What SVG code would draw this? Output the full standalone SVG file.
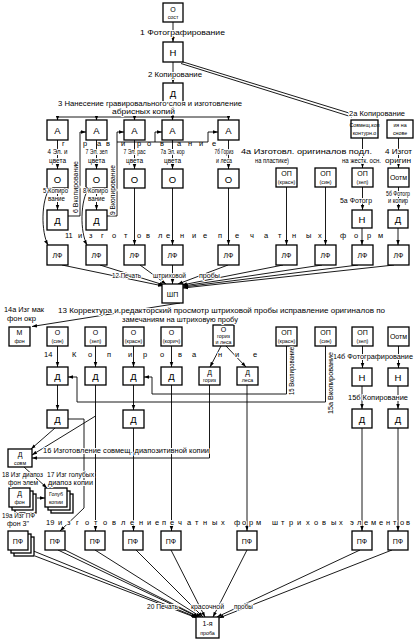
<svg xmlns="http://www.w3.org/2000/svg" width="415" height="642" viewBox="0 0 415 642">
<defs>
<style>
.b{fill:#fff;stroke:#000;stroke-width:1.3}
.c{fill:none;stroke:#000;stroke-width:0.9}
.m{marker-end:url(#ar)}
text{font-family:"Liberation Sans","DejaVu Sans",Arial,sans-serif;fill:#000}
.l{font-size:7px}
.h{paint-order:stroke;stroke:#fff;stroke-width:2px;stroke-linejoin:round}
.k{font-size:9.5px;text-anchor:middle}
.k2{font-size:7px;text-anchor:middle}
.s{font-size:5.3px;text-anchor:middle}
.sp{font-size:7.5px}
.al{font-size:6.5px;text-anchor:middle}
</style>
<marker id="ar" viewBox="0 0 10 10" refX="10" refY="5" markerWidth="5" markerHeight="5" markerUnits="userSpaceOnUse" orient="auto"><path d="M0,1.5L10,5L0,8.5z"/></marker>
</defs>
<rect width="415" height="642" fill="#fff"/>
<g id="connectors">
<path class="c m" d="M173,22V42"/>
<path class="c m" d="M173,62V83"/>
<path class="c" d="M173,103V117M57.5,117H228.5"/>
<path class="c m" d="M57.5,117V120.5"/><path class="c m" d="M96.5,117V120.5"/><path class="c m" d="M134.5,117V120.5"/><path class="c m" d="M172.5,117V120.5"/><path class="c m" d="M228.5,117V120.5"/>
<path class="c" d="M180,61L349,113"/><path class="c" d="M181,63.5L352,117"/>
<path class="c m" d="M57.5,140V169"/><path class="c m" d="M96.5,140V169"/><path class="c m" d="M134.5,140V169"/><path class="c m" d="M172.5,140V169"/><path class="c m" d="M228.5,140V169"/>
<path class="c m" d="M57.5,188V210"/><path class="c m" d="M96.5,188V210"/>
<path class="c m" d="M50,188C41,200 41,232 48,245"/><path class="c m" d="M89,188C80,200 80,232 87,245"/>
<path class="c m" d="M68,216H80V132H86"/>
<path class="c m" d="M107,216H117V132H124"/>
<path class="c" d="M117,142H208"/>
<path class="c m" d="M155,142V132H162"/><path class="c m" d="M208,142V132H218"/>
<path class="c m" d="M134.5,188V245"/><path class="c m" d="M172.5,188V245"/><path class="c m" d="M228.5,188V245"/>
<path class="c m" d="M286.5,187V245"/><path class="c m" d="M325.5,187V245"/>
<path class="c m" d="M362.5,187V210"/><path class="c m" d="M362,228V245"/>
<path class="c m" d="M398.5,187V210"/><path class="c m" d="M398,228V245"/>
<path class="c m" d="M362.5,138V168"/><path class="c m" d="M398.5,138V168"/>
<path class="c m" d="M62,265L163,286"/><path class="c m" d="M100,265L164,285"/><path class="c m" d="M140,265L166,284"/><path class="c m" d="M172.5,265V284"/>
<path class="c m" d="M228,265L178,284"/><path class="c m" d="M283,265L182,285"/><path class="c m" d="M322,265L183,286"/><path class="c m" d="M358,265L183,287"/><path class="c m" d="M394,265L183,288"/>
<path class="c m" d="M180,303L32,326.5"/>
<path class="c m" d="M57.5,346V367"/><path class="c m" d="M95.5,346V367"/><path class="c m" d="M133.5,346V367"/><path class="c m" d="M171.5,346V367"/>
<path class="c m" d="M221,346L210,367"/><path class="c m" d="M226,346L246,367"/>
<path class="c m" d="M286.5,346V394H152V377H144"/>
<path class="c m" d="M325.5,346V402H77V377H68"/>
<path class="c m" d="M362.5,346V368"/><path class="c m" d="M398.5,346V368"/>
<path class="c m" d="M362,386V409"/><path class="c m" d="M398,386V409"/>
<path class="c m" d="M57.5,385V410"/><path class="c m" d="M133.5,385V410"/>
<path class="c m" d="M209.5,385V458H32"/>
<path class="c m" d="M55,428L31,449"/><path class="c m" d="M95.5,416L32,455"/>
<path class="c m" d="M68,419H84V508L60,531"/>
<path class="c m" d="M95.5,385V531"/><path class="c m" d="M133.5,428V531"/><path class="c m" d="M171.5,385V531"/><path class="c m" d="M247,385V531"/>
<path class="c m" d="M362,428V531"/><path class="c m" d="M398,428V531"/>
<path class="c m" d="M24,467L47,488"/>
<path class="c m" d="M37,498H45"/>
<path class="c m" d="M31,550L196,617"/><path class="c m" d="M35,556L197,618"/><path class="c m" d="M58,550L198,617"/><path class="c m" d="M65,550L199,617"/>
<path class="c m" d="M95,550L201,617"/><path class="c m" d="M136,550L203,617"/><path class="c m" d="M171,550L205,617"/>
<path class="c m" d="M247,550L213,617"/><path class="c m" d="M360,550L217,617"/><path class="c m" d="M392,550L219,618"/>
</g>
<g id="nodes">
<g id="n-o-sost"><rect class="b" x="163" y="3" width="20" height="19"/><text class="k2" x="173" y="11.5">О</text><text class="s" x="173" y="19">сост</text></g>
<g id="n-n"><rect class="b" x="163" y="42" width="20" height="20"/><text class="k" x="173" y="55.5">Н</text></g>
<g id="n-d"><rect class="b" x="163" y="83" width="20" height="20"/><text class="k" x="173" y="96.5">Д</text></g>
<g id="n-a1"><rect class="b" x="47" y="120" width="21" height="20"/><text class="k" x="57.5" y="133.5">А</text></g>
<g id="n-a2"><rect class="b" x="86" y="120" width="21" height="20"/><text class="k" x="96.5" y="133.5">А</text></g>
<g id="n-a3"><rect class="b" x="124" y="120" width="21" height="20"/><text class="k" x="134.5" y="133.5">А</text></g>
<g id="n-a4"><rect class="b" x="162" y="120" width="21" height="20"/><text class="k" x="172.5" y="133.5">А</text></g>
<g id="n-a5"><rect class="b" x="218" y="120" width="21" height="20"/><text class="k" x="228.5" y="133.5">А</text></g>
<g id="n-sovm1"><rect class="b" x="351" y="120" width="27" height="18"/><text class="s" x="364.5" y="127" font-size="5">Совмещ.коп</text><text class="s" x="364.5" y="135" font-size="5">контурн.о</text></g>
<g id="n-sovm2"><rect class="b" x="387" y="120" width="26" height="18"/><text class="s" x="400" y="127" font-size="5">ия на</text><text class="s" x="400" y="135" font-size="5">снове</text></g>
<g id="n-o1"><rect class="b" x="47" y="169" width="21" height="19"/><text class="k" x="57.5" y="182.5">О</text></g>
<g id="n-o2"><rect class="b" x="86" y="169" width="21" height="19"/><text class="k" x="96.5" y="182.5">О</text></g>
<g id="n-o3"><rect class="b" x="124" y="169" width="21" height="19"/><text class="k" x="134.5" y="182.5">О</text></g>
<g id="n-o4"><rect class="b" x="162" y="169" width="21" height="19"/><text class="k" x="172.5" y="182.5">О</text></g>
<g id="n-o5"><rect class="b" x="218" y="169" width="21" height="19"/><text class="k" x="228.5" y="182.5">О</text></g>
<g id="n-op1"><rect class="b" x="276" y="168" width="21" height="19"/><text class="k2" x="286.5" y="176">ОП</text><text class="s" x="286.5" y="184">(красн)</text></g>
<g id="n-op2"><rect class="b" x="315" y="168" width="21" height="19"/><text class="k2" x="325.5" y="176">ОП</text><text class="s" x="325.5" y="184">(син)</text></g>
<g id="n-op3"><rect class="b" x="352" y="168" width="21" height="19"/><text class="k2" x="362.5" y="176">ОП</text><text class="s" x="362.5" y="184">(зел)</text></g>
<g id="n-ootm1"><rect class="b" x="388" y="168" width="21" height="19"/><text class="k2" x="398.5" y="180" font-size="6">Оотм</text></g>
<g id="n-d1"><rect class="b" x="47" y="210" width="21" height="20"/><text class="k" x="57.5" y="223.5">Д</text></g>
<g id="n-d2"><rect class="b" x="86" y="210" width="21" height="20"/><text class="k" x="96.5" y="223.5">Д</text></g>
<g id="n-n5a"><rect class="b" x="352" y="210" width="20" height="18"/><text class="k" x="362" y="222.5">Н</text></g>
<g id="n-d5b"><rect class="b" x="388" y="210" width="20" height="18"/><text class="k" x="398" y="222.5">Д</text></g>
<g id="n-lf1"><rect class="b" x="47" y="245" width="21" height="20"/><text class="k2" x="57.5" y="257.5">ЛФ</text></g>
<g id="n-lf2"><rect class="b" x="86" y="245" width="21" height="20"/><text class="k2" x="96.5" y="257.5">ЛФ</text></g>
<g id="n-lf3"><rect class="b" x="124" y="245" width="21" height="20"/><text class="k2" x="134.5" y="257.5">ЛФ</text></g>
<g id="n-lf4"><rect class="b" x="162" y="245" width="21" height="20"/><text class="k2" x="172.5" y="257.5">ЛФ</text></g>
<g id="n-lf5"><rect class="b" x="218" y="245" width="21" height="20"/><text class="k2" x="228.5" y="257.5">ЛФ</text></g>
<g id="n-lf6"><rect class="b" x="276" y="245" width="21" height="20"/><text class="k2" x="286.5" y="257.5">ЛФ</text></g>
<g id="n-lf7"><rect class="b" x="315" y="245" width="21" height="20"/><text class="k2" x="325.5" y="257.5">ЛФ</text></g>
<g id="n-lf8"><rect class="b" x="352" y="245" width="21" height="20"/><text class="k2" x="362.5" y="257.5">ЛФ</text></g>
<g id="n-lf9"><rect class="b" x="388" y="245" width="21" height="20"/><text class="k2" x="398.5" y="257.5">ЛФ</text></g>
<g id="n-shp"><rect class="b" x="162" y="284" width="21" height="19"/><text class="k2" x="172.5" y="296.5">ШП</text></g>
<g id="n-mfon"><rect class="b" x="9" y="327" width="21" height="19"/><text class="k2" x="19.5" y="335">М</text><text class="s" x="19.5" y="343">фон</text></g>
<g id="n-osin"><rect class="b" x="47" y="327" width="21" height="19"/><text class="k2" x="57.5" y="335">О</text><text class="s" x="57.5" y="343">(син)</text></g>
<g id="n-ozel"><rect class="b" x="85" y="327" width="21" height="19"/><text class="k2" x="95.5" y="335">О</text><text class="s" x="95.5" y="343">(зел)</text></g>
<g id="n-okr"><rect class="b" x="123" y="327" width="21" height="19"/><text class="k2" x="133.5" y="335">О</text><text class="s" x="133.5" y="343">(красн)</text></g>
<g id="n-okor"><rect class="b" x="161" y="327" width="21" height="19"/><text class="k2" x="171.5" y="335">О</text><text class="s" x="171.5" y="343">(корич)</text></g>
<g id="n-ogor"><rect class="b" x="213" y="325" width="21" height="21"/><text class="k2" x="223.5" y="332" font-size="6.5">О</text><text class="s" x="223.5" y="338" font-size="4.8">гориз</text><text class="s" x="223.5" y="344" font-size="4.8">и леса</text></g>
<g id="n-op4"><rect class="b" x="276" y="327" width="21" height="19"/><text class="k2" x="286.5" y="335">ОП</text><text class="s" x="286.5" y="343">(красн)</text></g>
<g id="n-op5"><rect class="b" x="315" y="327" width="21" height="19"/><text class="k2" x="325.5" y="335">ОП</text><text class="s" x="325.5" y="343">(син)</text></g>
<g id="n-op6"><rect class="b" x="352" y="327" width="21" height="19"/><text class="k2" x="362.5" y="335">ОП</text><text class="s" x="362.5" y="343">(зел)</text></g>
<g id="n-ootm2"><rect class="b" x="388" y="327" width="21" height="19"/><text class="k2" x="398.5" y="339" font-size="6">Оотм</text></g>
<g id="n-d14a"><rect class="b" x="47" y="367" width="21" height="18"/><text class="k" x="57.5" y="380">Д</text></g>
<g id="n-d14b"><rect class="b" x="85" y="367" width="21" height="18"/><text class="k" x="95.5" y="380">Д</text></g>
<g id="n-d14c"><rect class="b" x="123" y="367" width="21" height="18"/><text class="k" x="133.5" y="380">Д</text></g>
<g id="n-d14d"><rect class="b" x="161" y="367" width="21" height="18"/><text class="k" x="171.5" y="380">Д</text></g>
<g id="n-dgor"><rect class="b" x="199" y="367" width="21" height="18"/><text class="k2" x="209.5" y="374.5">Д</text><text class="s" x="209.5" y="382">гориз</text></g>
<g id="n-dles"><rect class="b" x="237" y="367" width="21" height="18"/><text class="k2" x="247.5" y="374.5">Д</text><text class="s" x="247.5" y="382">леса</text></g>
<g id="n-n14a"><rect class="b" x="352" y="368" width="20" height="18"/><text class="k" x="362" y="381">Н</text></g>
<g id="n-n14b"><rect class="b" x="388" y="368" width="20" height="18"/><text class="k" x="398" y="381">Н</text></g>
<g id="n-d15a"><rect class="b" x="47" y="410" width="21" height="18"/><text class="k" x="57.5" y="423">Д</text></g>
<g id="n-d15b"><rect class="b" x="123" y="410" width="21" height="18"/><text class="k" x="133.5" y="423">Д</text></g>
<g id="n-d15c"><rect class="b" x="352" y="409" width="20" height="19"/><text class="k" x="362" y="422.5">Д</text></g>
<g id="n-d15d"><rect class="b" x="388" y="409" width="20" height="19"/><text class="k" x="398" y="422.5">Д</text></g>
<g id="n-dsovm"><rect class="b" x="8" y="449" width="24" height="18"/><text class="k2" x="20" y="456.5">Д</text><text class="s" x="20" y="464.5">совм</text></g>
<g id="n-dfon"><rect class="b" x="15" y="494" width="21" height="19"/><rect class="b" x="12" y="491" width="21" height="19"/><rect class="b" x="9" y="488" width="21" height="19"/><text class="k2" x="19.5" y="496">Д</text><text class="s" x="19.5" y="504">фон</text></g>
<g id="n-golub"><rect class="b" x="51" y="494" width="22" height="19"/><rect class="b" x="48" y="491" width="22" height="19"/><rect class="b" x="45" y="488" width="22" height="19"/><text class="s" x="56" y="496" font-size="5.5">Голуб</text><text class="s" x="56" y="503.5" font-size="5.5">копии</text></g>
<g id="n-pf1"><rect class="b" x="14" y="537" width="20" height="19"/><rect class="b" x="11" y="534" width="20" height="19"/><rect class="b" x="8" y="531" width="20" height="19"/><text class="k2" x="18" y="544">ПФ</text></g>
<g id="n-pf2"><rect class="b" x="45" y="531" width="20" height="19"/><text class="k2" x="55" y="544">ПФ</text></g>
<g id="n-pf3"><rect class="b" x="85" y="531" width="20" height="19"/><text class="k2" x="95" y="544">ПФ</text></g>
<g id="n-pf4"><rect class="b" x="123" y="531" width="20" height="19"/><text class="k2" x="133" y="544">ПФ</text></g>
<g id="n-pf5"><rect class="b" x="161" y="531" width="20" height="19"/><text class="k2" x="171" y="544">ПФ</text></g>
<g id="n-pf6"><rect class="b" x="237" y="531" width="20" height="19"/><text class="k2" x="247" y="544">ПФ</text></g>
<g id="n-pf7"><rect class="b" x="352" y="531" width="20" height="19"/><text class="k2" x="362" y="544">ПФ</text></g>
<g id="n-pf8"><rect class="b" x="388" y="531" width="20" height="19"/><text class="k2" x="398" y="544">ПФ</text></g>
<g id="n-proba"><rect class="b" x="196" y="617" width="23" height="21"/><text class="k2" x="207.5" y="626" font-size="6.5">1-я</text><text class="s" x="207.5" y="634.5" font-size="5.8">проба</text></g>
</g>
<g id="labels" class="l">
<text class="h" x="140" y="35" textLength="85" lengthAdjust="spacingAndGlyphs">1 Фотографирование</text>
<text class="h" x="148" y="77" textLength="54" lengthAdjust="spacingAndGlyphs">2 Копирование</text>
<text class="h" x="58" y="106" textLength="184" lengthAdjust="spacingAndGlyphs">3 Нанесение гравировального слоя и изготовление</text>
<text class="h" x="112" y="113.5" textLength="63" lengthAdjust="spacingAndGlyphs">абрисных копий</text>
<text class="h" x="349" y="116" textLength="56" lengthAdjust="spacingAndGlyphs" font-size="6.5">2а Копирование</text>
<text class="sp" x="62 83 97 106 121 137 147 160 177 188 199 212" y="145.5">гравирование</text>
<text class="h al" x="57.5" y="154" textLength="20" lengthAdjust="spacingAndGlyphs">4 Эл. и</text><text class="h al" x="57.5" y="162.5">цвета</text>
<text class="h al" x="96.5" y="154" textLength="22" lengthAdjust="spacingAndGlyphs">7 Эл. зел</text><text class="h al" x="96.5" y="162.5">цвета</text>
<text class="h al" x="134.5" y="154" textLength="22" lengthAdjust="spacingAndGlyphs">7 Эл. рас</text><text class="h al" x="134.5" y="162.5">цвета</text>
<text class="h al" x="172.5" y="154" textLength="24" lengthAdjust="spacingAndGlyphs">7а Эл. кор</text><text class="h al" x="172.5" y="162.5">цвета</text>
<text class="h al" x="224" y="154" textLength="19" lengthAdjust="spacingAndGlyphs">7б Гориз</text><text class="h al" x="224" y="162.5" textLength="16" lengthAdjust="spacingAndGlyphs">и леса</text>
<text class="h" x="241" y="154" textLength="131" lengthAdjust="spacingAndGlyphs" font-size="6.5">4а Изготовл. оригиналов подл.</text>
<text class="h" x="255" y="162.5" textLength="34" lengthAdjust="spacingAndGlyphs" font-size="6.5">на пластике)</text>
<text class="h" x="342" y="162.5" textLength="39" lengthAdjust="spacingAndGlyphs" font-size="6.5">на жестк. осн.</text>
<text class="h" x="385" y="154" textLength="27" lengthAdjust="spacingAndGlyphs" font-size="6.5">4 Изгот</text>
<text class="h" x="385" y="162.5" textLength="26" lengthAdjust="spacingAndGlyphs" font-size="6.5">оригин</text>
<text class="h" x="43" y="193" textLength="25" lengthAdjust="spacingAndGlyphs">5 Копиро</text><text class="h" x="48" y="201" textLength="17" lengthAdjust="spacingAndGlyphs">вание</text>
<text class="h" x="83" y="193" textLength="25" lengthAdjust="spacingAndGlyphs">8 Копиро</text><text class="h" x="88" y="201" textLength="17" lengthAdjust="spacingAndGlyphs">вание</text>
<text class="h" x="340" y="203" textLength="32" lengthAdjust="spacingAndGlyphs">5а Фотогр</text>
<text class="h" x="386" y="195.5" textLength="24" lengthAdjust="spacingAndGlyphs" font-size="6.5">5б Фотогр</text><text class="h" x="388" y="203" textLength="20" lengthAdjust="spacingAndGlyphs" font-size="6.5">и копир</text>
<text class="h" transform="translate(78,187) rotate(-90)" text-anchor="middle" textLength="52" lengthAdjust="spacingAndGlyphs">6 Вкопирование</text>
<text class="h" transform="translate(115,190) rotate(-90)" text-anchor="middle" textLength="50" lengthAdjust="spacingAndGlyphs">9 Вкопирование</text>
<text class="sp h" x="65" y="238">11</text>
<text class="sp h" x="78 89 101 112 124 137 146 158 166 180 192 203" y="238">изготовление</text>
<text class="sp h" x="218 235 250 264 278 292 306 318" y="238">печатных</text>
<text class="sp h" x="340 354 367 378" y="238">форм</text>
<text class="h" x="112" y="278" textLength="29" lengthAdjust="spacingAndGlyphs">12 Печать</text>
<text class="h" x="153" y="278" textLength="33" lengthAdjust="spacingAndGlyphs">штриховой</text>
<text class="h" x="199" y="278" textLength="21" lengthAdjust="spacingAndGlyphs">пробы</text>
<text class="h" x="4" y="312" textLength="40" lengthAdjust="spacingAndGlyphs">14а Изг мак</text>
<text class="h" x="7" y="321" textLength="29" lengthAdjust="spacingAndGlyphs">фон окр</text>
<text class="h" x="58" y="313" textLength="327" lengthAdjust="spacingAndGlyphs">13 Корректура и редакторский просмотр штриховой пробы исправление оригиналов по</text>
<text class="h" x="122" y="322" textLength="116" lengthAdjust="spacingAndGlyphs">замечаниям на штриховую пробу</text>
<text class="sp h" x="44" y="357">14</text>
<text class="sp h" x="72 88 107 128 143 160 178 192 218 235 253" y="357">Копирование</text>
<text class="h" x="333" y="359" textLength="80" lengthAdjust="spacingAndGlyphs">14б Фотографирование</text>
<text class="h" transform="translate(294,371) rotate(-90)" text-anchor="middle" textLength="48" lengthAdjust="spacingAndGlyphs">15 Вкопирование</text>
<text class="h" transform="translate(333,383) rotate(-90)" text-anchor="middle" textLength="62" lengthAdjust="spacingAndGlyphs">15а Вкопирование</text>
<text class="h" x="348" y="400" textLength="60" lengthAdjust="spacingAndGlyphs">15б Копирование</text>
<text class="h" x="43" y="453" textLength="166" lengthAdjust="spacingAndGlyphs">16 Изготовление совмещ. диапозитивной копии</text>
<text class="h" x="2" y="477" textLength="41" lengthAdjust="spacingAndGlyphs">18 Изг диапоз</text>
<text class="h" x="8" y="485" textLength="30" lengthAdjust="spacingAndGlyphs">фон элем</text>
<text class="h" x="47" y="477" textLength="47" lengthAdjust="spacingAndGlyphs">17 Изг голубых</text>
<text class="h" x="48" y="485" textLength="45" lengthAdjust="spacingAndGlyphs">диапоз копии</text>
<text class="h" x="2" y="518" textLength="33" lengthAdjust="spacingAndGlyphs">19а Изг ПФ</text>
<text class="h" x="7" y="525.5" textLength="22" lengthAdjust="spacingAndGlyphs">фон 3"</text>
<text class="sp h" x="46" y="525">19</text>
<text class="sp h" x="58 67 76 85 94 103 112 121 130 139 147 155" y="525">изготовление</text>
<text class="sp h" x="162 170 178 187 195 203 212 221" y="525">печатных</text>
<text class="sp h" x="234 242 249 256" y="525">форм</text>
<text class="sp h" x="272 281 289 297 306 314 322 331 339" y="525">штриховых</text>
<text class="sp h" x="350 357 364 371 379 386 393 400 406" y="525">элементов</text>
<text class="h" x="147" y="609" textLength="31" lengthAdjust="spacingAndGlyphs">20 Печать</text>
<text class="h" x="191" y="609" textLength="33" lengthAdjust="spacingAndGlyphs">красочной</text>
<text class="h" x="234" y="609" textLength="19" lengthAdjust="spacingAndGlyphs">пробы</text>
</g>
</svg>
